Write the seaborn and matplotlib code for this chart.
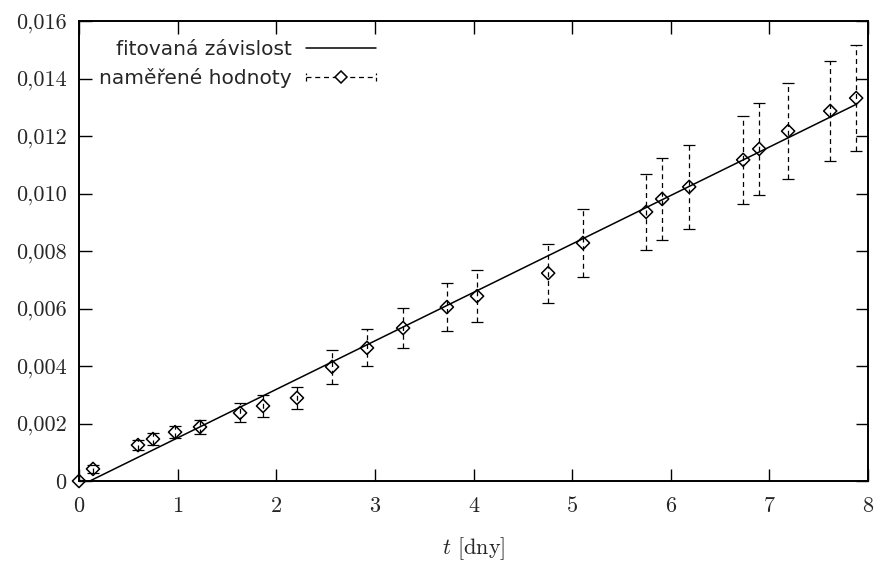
import numpy as np
import pandas as pd
import matplotlib
matplotlib.use("Agg")
import matplotlib.pyplot as plt
import seaborn as sns
from matplotlib.lines import Line2D
from matplotlib.legend_handler import HandlerBase

# ---- data ----
t_days = [0.0, 0.142, 0.598, 0.75, 0.974, 1.227, 1.633, 1.866, 2.21, 2.566, 2.92, 3.286,
          3.73, 4.036, 4.757, 5.11, 5.75, 5.913, 6.187, 6.734, 6.897, 7.19, 7.617, 7.88]
values = [0.0, 0.00042, 0.00125, 0.00146, 0.00170, 0.00188, 0.00237, 0.00261, 0.00289,
          0.00397, 0.00463, 0.00532, 0.00605, 0.00643, 0.00723, 0.00828, 0.00936, 0.00981,
          0.01023, 0.01117, 0.01155, 0.01217, 0.01287, 0.01332]
errors = [0.00003, 0.00014, 0.00018, 0.00021, 0.00021, 0.00024, 0.00033, 0.00037, 0.00038,
          0.00059, 0.00064, 0.00071, 0.00082, 0.00090, 0.00103, 0.00118, 0.00132, 0.00143,
          0.00146, 0.00153, 0.00160, 0.00167, 0.00174, 0.00184]
fit_slope = 0.001686
fit_intercept = -0.000185

x_ticks = [0, 1, 2, 3, 4, 5, 6, 7, 8]
y_ticks = [0, 0.002, 0.004, 0.006, 0.008, 0.010, 0.012, 0.014, 0.016]
y_tick_labels = ["0", "0,002", "0,004", "0,006", "0,008", "0,010", "0,012", "0,014", "0,016"]
label_fit = "fitovaná závislost"
label_meas = "naměřené hodnoty"
x_label = r"$t$ [dny]"

# ---- style ----
sns.set_style("white")
plt.rcParams["mathtext.fontset"] = "cm"
plt.rcParams["axes.formatter.use_mathtext"] = True

fig = plt.figure(figsize=(8.74, 5.65), dpi=100)
ax = fig.add_axes([79/874, 1-481/565, (868-79)/874, (481-21)/565])

fit_t = np.linspace(0, max(t_days), 200)
fit_df = pd.DataFrame({"t": fit_t, "y": fit_slope * fit_t + fit_intercept})
sns.lineplot(data=fit_df, x="t", y="y", ax=ax, color="black", lw=1.1, zorder=2)

eb = ax.errorbar(t_days, values, yerr=errors, fmt="none", ecolor="black",
                 elinewidth=0.9, capsize=4.0, capthick=0.9, zorder=3)
for lc in eb[2]:
    lc.set_linestyle((0, (4, 3)))
sns.scatterplot(x=t_days, y=values, ax=ax, marker="D", s=45, facecolor="none",
                edgecolor="black", linewidth=1.1, zorder=4, clip_on=False)

ax.set_xlim(0, 8)
ax.set_ylim(0, 0.016)
ax.set_xticks(x_ticks)
ax.set_xticklabels([str(v) for v in x_ticks])
ax.set_yticks(y_ticks)
ax.set_yticklabels(y_tick_labels)
for lab in ax.get_xticklabels() + ax.get_yticklabels():
    lab.set_fontfamily("cmr10")
    lab.set_fontsize(16)
ax.tick_params(direction="in", length=9, width=1.0, top=True, right=True,
               bottom=True, left=True, color="black")
ax.tick_params(axis="x", pad=11)
ax.tick_params(axis="y", pad=9)
for s in ax.spines.values():
    s.set_visible(True)
    s.set_color("black")
    s.set_linewidth(1.4)
ax.set_xlabel(x_label, fontfamily="cmr10", fontsize=16, labelpad=14)
ax.set_ylabel("")


class HandlerErr(HandlerBase):
    def create_artists(self, legend, orig_handle, xdescent, ydescent, width, height,
                       fontsize, trans):
        y = height / 2 - ydescent
        x0, x1 = -xdescent, width - xdescent
        h = height * 0.3
        arts = [
            Line2D([x0, x1], [y, y], ls=(0, (4, 3)), color="black", lw=0.9),
            Line2D([x0, x0], [y - h, y + h], ls=(0, (3, 2)), color="black", lw=0.9),
            Line2D([x1, x1], [y - h, y + h], ls=(0, (3, 2)), color="black", lw=0.9),
            Line2D([(x0 + x1) / 2], [y], marker="D", ms=6.5, mfc="white",
                   mec="black", mew=1.1, ls="none"),
        ]
        for a in arts:
            a.set_transform(trans)
        return arts


h_fit = Line2D([], [], color="black", lw=1.1)
h_meas = object()
leg = ax.legend([h_fit, h_meas], [label_fit, label_meas],
                handler_map={object: HandlerErr()},
                loc="upper right", bbox_to_anchor=(376/874, 1-40/565),
                bbox_transform=fig.transFigure, frameon=False, markerfirst=False,
                handlelength=3.5, handletextpad=0.7, labelspacing=0.45,
                borderpad=0, borderaxespad=0, prop={"family": "DejaVu Sans", "size": 14.5})

fig.savefig("out.png", dpi=100)
